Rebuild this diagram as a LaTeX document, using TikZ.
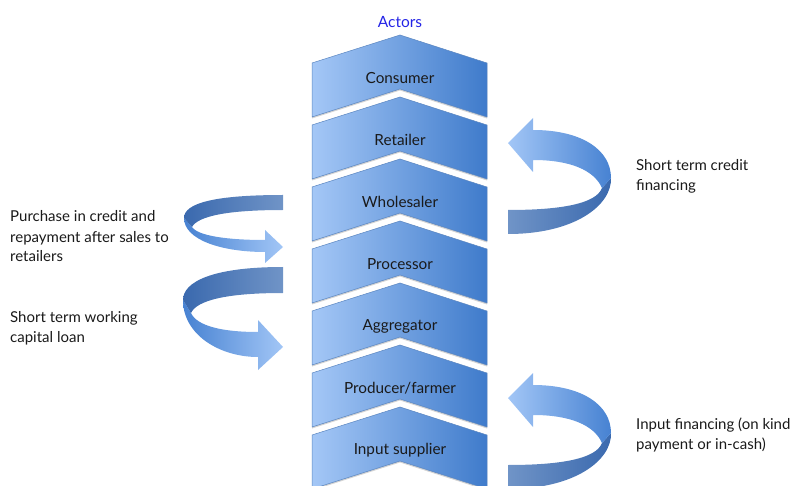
\documentclass[tikz,border=0pt]{standalone}
\usepackage{fontspec}
\setmainfont{Lato}
\usetikzlibrary{shadows}

\definecolor{chevlight}{HTML}{A4C7F6}
\definecolor{chevdark}{HTML}{3F7BCB}
\definecolor{chevedge}{HTML}{5B86C0}
\definecolor{bandlight}{HTML}{A2C6F6}
\definecolor{bandmid}{HTML}{4782D2}
\definecolor{backlight}{HTML}{7094C7}
\definecolor{backdark}{HTML}{3A69AE}
\definecolor{actorsblue}{HTML}{2424E6}
\definecolor{notegray}{HTML}{1A1A1A}

\begin{document}
\begin{tikzpicture}[x=1pt, y=-1pt,
    chevron/.style={left color=chevlight, right color=chevdark, draw=chevedge, line width=0.5pt,
      drop shadow={shadow xshift=0pt, shadow yshift=-1.5pt, opacity=0.35}},
    actor/.style={font=\fontsize{15.3}{17}\selectfont, text=notegray},
    note/.style={font=\fontsize{15}{20}\selectfont, text=notegray, align=left, anchor=base west, inner sep=0pt},
    front/.style={left color=bandmid, right color=bandlight},
    back/.style={left color=backdark, right color=backlight},
    frontr/.style={left color=bandlight, right color=bandmid},
    backr/.style={left color=backlight, right color=backdark}]
	\useasboundingbox (0,0) rectangle (795,486);

	\node[actor, text=actorsblue, font=\fontsize{15.5}{17}\selectfont] (actors) at (400,22) {Actors};

	% stack of actors, top to bottom
	\foreach \name/\txt [count=\i from 0] in {consumer/Consumer, retailer/Retailer, wholesaler/Wholesaler,
	    processor/Processor, aggregator/Aggregator, producer/Producer\slash farmer, supplier/Input supplier} {
		\pgfmathsetmacro\ytop{63+62*\i}
		\draw[chevron] (312,\ytop) -- (400,\ytop-28) -- (487,\ytop) -- (487,\ytop+54)
			-- (400,\ytop+26) -- (312,\ytop+54) -- cycle;
		\node[actor] (\name) at (400,\ytop+15) {\txt};
	}

	% left side loops
	\path[front] (184,218) .. controls (184,240) and (222,252) .. (265,252) -- (265,263) -- (283,247)
		-- (265,230) -- (265,240) .. controls (228,240) and (198,236) .. (192,227) -- cycle;
	\path[back] (283,195) .. controls (215,195) and (184,203) .. (184,218) -- (192,227)
		.. controls (198,216) and (228,210) .. (283,210) -- cycle;

	\path[front] (183,300) .. controls (183,335) and (220,357) .. (258,357) -- (258,370) -- (283,347)
		-- (258,320) -- (258,332) .. controls (222,332) and (197,326) .. (191,313) -- cycle;
	\path[back] (283,267) .. controls (212,267) and (183,282) .. (183,300) -- (191,313)
		.. controls (197,300) and (228,293) .. (283,293) -- cycle;

	% right side loops
	\foreach \dy in {0,255} {
		\begin{scope}[shift={(0,\dy)}]
			\path[backr] (611,178) .. controls (612,205) and (575,234) .. (508,234) -- (508,210)
				.. controls (560,210) and (596,204) .. (602,188) -- cycle;
			\path[frontr] (508,143) -- (533,118) -- (533,130) .. controls (582,130) and (611,150) .. (611,178)
				-- (602,188) .. controls (594,170) and (570,160) .. (533,160) -- (533,172) -- cycle;
		\end{scope}
	}

	% notes (anchored on the baseline of their last line)
	\node[note] (purchase) at (10,262) {Purchase in credit and\\repayment after sales to\\retailers};
	\node[note] (workloan) at (10,342) {Short term working\\capital loan};
	\node[note] (creditfin) at (636,191) {Short term credit\\financing};
	\node[note] (inputfin) at (636,449) {Input financing (on kind\\payment or in-cash)};
\end{tikzpicture}
\end{document}
